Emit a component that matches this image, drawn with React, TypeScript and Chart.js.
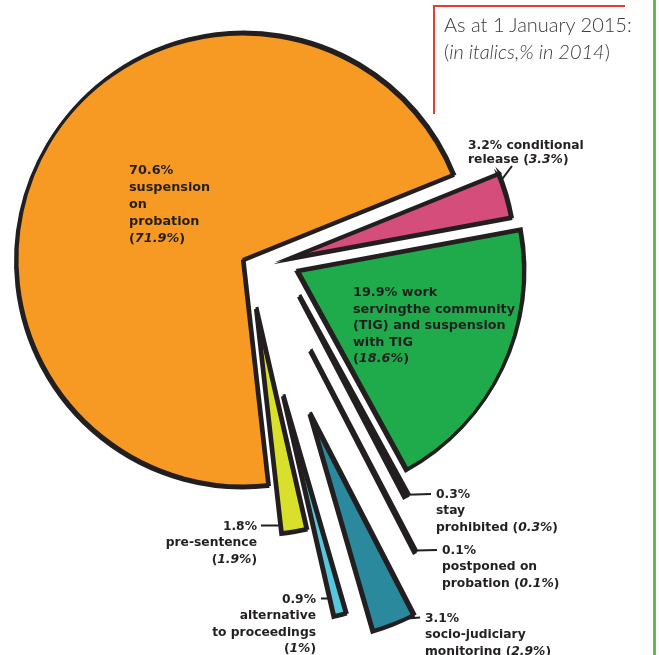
import React, { useEffect, useRef } from 'react';
import { Chart, registerables } from 'chart.js';

Chart.register(...registerables);

// ---- data ----
const categories = [
  'conditional release',
  'work serving the community (TIG) and suspension with TIG',
  'stay prohibited',
  'postponed on probation',
  'socio-judiciary monitoring',
  'alternative to proceedings',
  'pre-sentence',
  'suspension on probation',
];
const share2015 = [3.2, 19.9, 0.3, 0.1, 3.1, 0.9, 1.8, 70.6];
const share2014 = [3.3, 18.6, 0.3, 0.1, 2.9, 1, 1.9, 71.9];

// ---- styles ----
const sliceColors = ['#D54D7B', '#1FAB4B', '#2B5E9C', '#E23A84', '#2A899D', '#58C6DD', '#D9E02B', '#F79A23'];
const explodeRadial = [43.5, 53.5, 58, 111, 167, 141, 49.5, 0];
const explodeTangential = [11.6, -13.2, -32.3, -17.8, -5, -4.7, -4.7, 0];

type Leader = { kind: 'point' | 'edge'; frac: number; rad: number; edge?: 'start' | 'end'; end: [number, number] };
type LabelStyle = {
  x: number; y: number; lh: number; size: number; align: 'left' | 'right';
  lines: string[];
  leader?: Leader;
};

const labelStyles: LabelStyle[] = [
  { x: 468, y: 149, lh: 13.5, size: 12.3, align: 'left', lines: ['{v} conditional', 'release ({p})'], leader: { kind: 'point', frac: 0.15, rad: 1.0, end: [44, 17] } },
  { x: 353, y: 296, lh: 16.6, size: 12.8, align: 'left', lines: ['{v} work', 'servingthe community', '(TIG) and suspension', 'with TIG', '({p})'] },
  { x: 436, y: 498, lh: 16.3, size: 12.3, align: 'left', lines: ['{v}', 'stay', 'prohibited ({p})'], leader: { kind: 'point', frac: 0.5, rad: 1.0, end: [-5, -4] } },
  { x: 442, y: 554, lh: 16.3, size: 12.3, align: 'left', lines: ['{v}', 'postponed on', 'probation ({p})'], leader: { kind: 'point', frac: 0.5, rad: 1.0, end: [-5, -4] } },
  { x: 425, y: 622, lh: 16.3, size: 12.3, align: 'left', lines: ['{v}', 'socio-judiciary', 'monitoring ({p})'], leader: { kind: 'point', frac: 0.25, rad: 1.0, end: [-5, -4.5] } },
  { x: 316, y: 603, lh: 16.3, size: 12.3, align: 'right', lines: ['{v}', 'alternative', 'to proceedings', '({p})'], leader: { kind: 'edge', edge: 'end', frac: 0, rad: 0, end: [5, -4.5] } },
  { x: 257, y: 530, lh: 16.3, size: 12.3, align: 'right', lines: ['{v}', 'pre-sentence', '({p})'], leader: { kind: 'edge', edge: 'end', frac: 0, rad: 0, end: [4, -4.5] } },
  { x: 129, y: 174, lh: 17, size: 12.8, align: 'left', lines: ['{v}', 'suspension', 'on', 'probation', '({p})'] },
];

const INK = '#231F20';
const LABEL_FONT = '"DejaVu Sans", Lato, sans-serif';

const explodePlugin = {
  id: 'explodeSlices',
  afterDatasetsUpdate(chart: any) {
    const meta = chart.getDatasetMeta(0);
    meta.data.forEach((arc: any, i: number) => {
      const mid = (arc.startAngle + arc.endAngle) / 2;
      const r = explodeRadial[i] || 0;
      const t = explodeTangential[i] || 0;
      arc.x += Math.cos(mid) * r - Math.sin(mid) * t;
      arc.y += Math.sin(mid) * r + Math.cos(mid) * t;
    });
  },
};

const shadowPlugin = {
  id: 'sliceShadow',
  beforeDatasetsDraw(chart: any) {
    const c = chart.ctx;
    c.save();
    c.shadowColor = INK;
    c.shadowOffsetX = -1.5;
    c.shadowOffsetY = 2;
    c.shadowBlur = 0;
  },
  afterDatasetsDraw(chart: any) {
    chart.ctx.restore();
  },
};

function segmentsOf(line: string, i: number) {
  const out: { text: string; italic: boolean }[] = [];
  const parts = line.split(/(\{v\}|\{p\})/);
  parts.forEach((p) => {
    if (!p) return;
    if (p === '{v}') out.push({ text: `${share2015[i]}%`, italic: false });
    else if (p === '{p}') out.push({ text: `${share2014[i]}%`, italic: true });
    else out.push({ text: p, italic: false });
  });
  return out;
}

const labelPlugin = {
  id: 'sliceLabels',
  afterDraw(chart: any) {
    const c = chart.ctx;
    const meta = chart.getDatasetMeta(0);
    c.save();
    c.fillStyle = INK;
    c.strokeStyle = INK;
    c.textBaseline = 'alphabetic';
    labelStyles.forEach((ls, i) => {
      const arc = meta.data[i];
      if (ls.leader && arc) {
        const L = ls.leader;
        const ex = ls.x + L.end[0];
        const ey = ls.y + L.end[1];
        let sx: number, sy: number;
        if (L.kind === 'edge') {
          const a = L.edge === 'start' ? arc.startAngle : arc.endAngle;
          const t = (ey - arc.y) / Math.sin(a);
          sx = arc.x + Math.cos(a) * t;
          sy = ey;
          sx += ex > sx ? 2 : -2;
        } else {
          const a = arc.startAngle + (arc.endAngle - arc.startAngle) * L.frac;
          const rr = arc.outerRadius * L.rad;
          sx = arc.x + Math.cos(a) * rr;
          sy = arc.y + Math.sin(a) * rr;
        }
        c.beginPath();
        c.lineWidth = 2;
        c.moveTo(sx, sy);
        c.lineTo(ex, ey);
        c.stroke();
      }
      ls.lines.forEach((line, li) => {
        const segs = segmentsOf(line, i);
        const fonts = segs.map((s) => `${s.italic ? 'italic ' : ''}bold ${ls.size}px ${LABEL_FONT}`);
        let total = 0;
        const widths = segs.map((s, k) => {
          c.font = fonts[k];
          const w = c.measureText(s.text).width;
          total += w;
          return w;
        });
        let x = ls.align === 'right' ? ls.x - total : ls.x;
        const y = ls.y + li * ls.lh;
        segs.forEach((s, k) => {
          c.font = fonts[k];
          c.textAlign = 'left';
          c.fillText(s.text, x, y);
          x += widths[k];
        });
      });
    });
    c.restore();
  },
};

export default function App() {
  const ref = useRef<HTMLCanvasElement | null>(null);
  useEffect(() => {
    if (!ref.current) return;
    const chart = new Chart(ref.current, {
      type: 'pie',
      data: {
        labels: categories,
        datasets: [
          {
            data: share2015,
            backgroundColor: sliceColors,
            borderColor: INK,
            borderWidth: 3,
            borderJoinStyle: 'miter',
            clip: false,
          } as any,
        ],
      },
      options: {
        responsive: false,
        animation: false,
        events: [],
        rotation: 68,
        radius: 227,
        layout: { padding: { left: 0, top: 0, right: 171, bottom: 137 } },
        plugins: {
          legend: { display: false },
          tooltip: { enabled: false },
          title: { display: false },
        },
      } as any,
      plugins: [explodePlugin, shadowPlugin, labelPlugin],
    });
    return () => chart.destroy();
  }, []);

  return (
    <div style={{ position: 'fixed', left: 0, top: 0, width: 659, height: 655, background: '#fff', overflow: 'hidden' }}>
      <canvas ref={ref} width={659} height={655} style={{ position: 'absolute', left: 0, top: 0, width: 659, height: 655 }} />
      <div
        style={{
          position: 'absolute', left: 433, top: 5, width: 190, height: 107,
          borderLeft: '2px solid #E63B2E', borderTop: '2px solid #E63B2E',
        }}
      />
      <div
        style={{
          position: 'absolute', left: 444, top: 11, fontFamily: 'Lato, "DejaVu Sans", sans-serif',
          fontWeight: 300, fontSize: 20, lineHeight: '27px', color: '#3A3A3A', whiteSpace: 'nowrap',
        }}
      >
        As at 1 January 2015:
        <br />
        (<i>in italics,% in 2014</i>)
      </div>
      <div style={{ position: 'absolute', left: 653, top: 0, width: 3, height: 655, background: '#62BB46' }} />
    </div>
  );
}
